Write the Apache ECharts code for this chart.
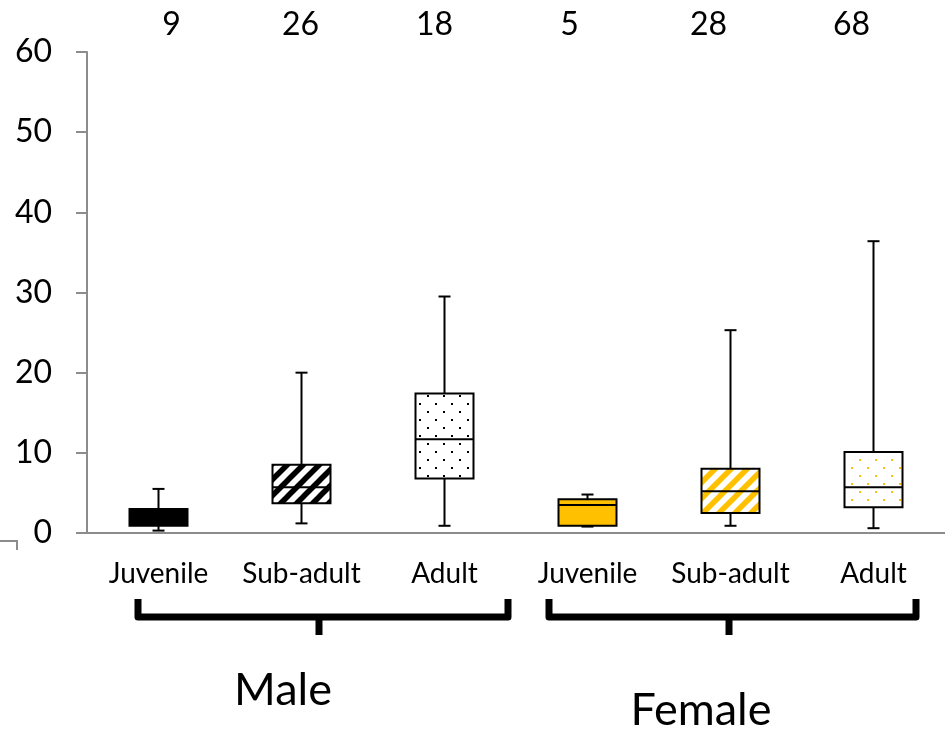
<!DOCTYPE html>
<html>
<head>
<meta charset="utf-8">
<title>Box plot by age class and sex</title>
<script src="https://cdn.jsdelivr.net/npm/echarts@6/dist/echarts.min.js"></script>
<style>
  html, body { margin: 0; padding: 0; background: #fff; }
  #main { width: 945px; height: 731px; }
</style>
</head>
<body>
<div id="main"></div>
<script>
  // data
  var categories = ['Juvenile', 'Sub-adult', 'Adult', 'Juvenile', 'Sub-adult', 'Adult'];
  var sampleSizes = [9, 26, 18, 5, 28, 68];
  var whiskerLow = [0.3, 1.2, 0.9, 0.8, 0.9, 0.6];
  var q1 = [0.9, 3.7, 6.8, 0.9, 2.5, 3.2];
  var median = [1.8, 5.7, 11.7, 3.5, 5.2, 5.7];
  var q3 = [3.0, 8.5, 17.4, 4.2, 8.0, 10.1];
  var whiskerHigh = [5.5, 20.0, 29.5, 4.8, 25.3, 36.4];
  var yTicks = [0, 10, 20, 30, 40, 50, 60];

  // the n labels in the original are hand placed, not exactly centred
  var nLabelShift = [13, -1, -10, -18, -22, -22];

  var ORANGE = '#FFC000';

  // fill patterns (solid / diagonal stripes / dots)
  function stripes(color) {
    var c = document.createElement('canvas');
    c.width = 16; c.height = 16;
    var ctx = c.getContext('2d');
    ctx.fillStyle = '#fff';
    ctx.fillRect(0, 0, 16, 16);
    ctx.strokeStyle = color;
    ctx.lineWidth = 5.5;
    for (var k = -2; k <= 2; k++) {
      ctx.beginPath();
      ctx.moveTo(k * 16 - 2, 18);
      ctx.lineTo(k * 16 + 18, -2);
      ctx.stroke();
    }
    return { image: c, repeat: 'repeat' };
  }
  function dots(color) {
    var c = document.createElement('canvas');
    c.width = 16; c.height = 16;
    var ctx = c.getContext('2d');
    ctx.fillStyle = '#fff';
    ctx.fillRect(0, 0, 16, 16);
    ctx.fillStyle = color;
    ctx.fillRect(3, 3, 2, 2);
    ctx.fillRect(11, 11, 2, 2);
    return { image: c, repeat: 'repeat' };
  }
  var fills = ['#000', stripes('#000'), dots('#000'), ORANGE, stripes(ORANGE), dots(ORANGE)];

  var boxData = categories.map(function (c, i) {
    return [i, whiskerLow[i], q1[i], median[i], q3[i], whiskerHigh[i]];
  });

  var nRich = {};
  nLabelShift.forEach(function (s, i) {
    nRich['n' + i] = {
      fontFamily: 'Lato', fontSize: 32, color: '#000',
      padding: s > 0 ? [0, 0, 0, 2 * s] : [0, -2 * s, 0, 0]
    };
  });

  var myChart = echarts.init(document.getElementById('main'));
  myChart.setOption({
    animation: false,
    grid: { left: 87, right: -6, top: 52, bottom: 198 },
    xAxis: [{
      type: 'category',
      data: categories,
      axisLine: { lineStyle: { color: '#8c8c8c', width: 2 } },
      axisTick: { length: 10, lineStyle: { color: '#8c8c8c', width: 2 } },
      axisLabel: { fontFamily: 'Lato', fontSize: 28, color: '#000', margin: 27, interval: 0, hideOverlap: false }
    }, {
      type: 'category',
      position: 'top',
      data: categories,
      axisLine: { show: false },
      axisTick: { show: false },
      axisLabel: {
        fontFamily: 'Lato', fontSize: 32, color: '#000', margin: 11, interval: 0,
        formatter: function (v, idx) { return '{n' + idx + '|' + sampleSizes[idx] + '}'; },
        rich: nRich
      }
    }],
    yAxis: {
      type: 'value',
      min: yTicks[0],
      max: yTicks[yTicks.length - 1],
      interval: 10,
      splitLine: { show: false },
      axisLine: { show: true, lineStyle: { color: '#8c8c8c', width: 2 } },
      axisTick: { show: true, length: 11, lineStyle: { color: '#8c8c8c', width: 2 } },
      axisLabel: { fontFamily: 'Lato', fontSize: 32, color: '#000', margin: 35 }
    },
    series: [{
      type: 'custom',
      data: boxData,
      encode: { x: 0, y: [1, 2, 3, 4, 5] },
      renderItem: function (params, api) {
        var i = api.value(0);
        var lo = api.coord([i, api.value(1)]);
        var b = api.coord([i, api.value(2)]);
        var m = api.coord([i, api.value(3)]);
        var t = api.coord([i, api.value(4)]);
        var hi = api.coord([i, api.value(5)]);
        var x = lo[0];
        var half = 29, cap = 6;
        var ls = { stroke: '#000', lineWidth: 2 };
        return {
          type: 'group',
          children: [
            { type: 'line', shape: { x1: x, y1: hi[1], x2: x, y2: lo[1] }, style: ls },
            { type: 'line', shape: { x1: x - cap, y1: hi[1], x2: x + cap, y2: hi[1] }, style: ls },
            { type: 'line', shape: { x1: x - cap, y1: lo[1], x2: x + cap, y2: lo[1] }, style: ls },
            {
              type: 'rect',
              shape: { x: x - half, y: t[1], width: half * 2, height: b[1] - t[1] },
              style: { fill: fills[params.dataIndex], stroke: '#000', lineWidth: 2 }
            },
            { type: 'line', shape: { x1: x - half, y1: m[1], x2: x + half, y2: m[1] }, style: ls }
          ]
        };
      }
    }],
    graphic: [
      // group braces
      { type: 'polyline', shape: { points: [[138, 599], [138, 617], [508, 617], [508, 599]] },
        style: { stroke: '#000', lineWidth: 7, fill: null, lineJoin: 'round' } },
      { type: 'line', shape: { x1: 319, y1: 617, x2: 319, y2: 635 }, style: { stroke: '#000', lineWidth: 7 } },
      { type: 'polyline', shape: { points: [[549, 599], [549, 617], [916, 617], [916, 599]] },
        style: { stroke: '#000', lineWidth: 7, fill: null, lineJoin: 'round' } },
      { type: 'line', shape: { x1: 729, y1: 617, x2: 729, y2: 635 }, style: { stroke: '#000', lineWidth: 7 } },
      { type: 'text', x: 283, y: 690,
        style: { text: 'Male', font: '45px Lato', fill: '#000', textAlign: 'center', textVerticalAlign: 'middle' } },
      { type: 'text', x: 701, y: 710,
        style: { text: 'Female', font: '45px Lato', fill: '#000', textAlign: 'center', textVerticalAlign: 'middle' } },
      // stray axis fragment at lower left
      { type: 'polyline', shape: { points: [[0, 541], [17, 541], [17, 550]] },
        style: { stroke: '#8c8c8c', lineWidth: 2, fill: null } }
    ]
  });
  window.onresize = myChart.resize;
</script>
</body>
</html>
